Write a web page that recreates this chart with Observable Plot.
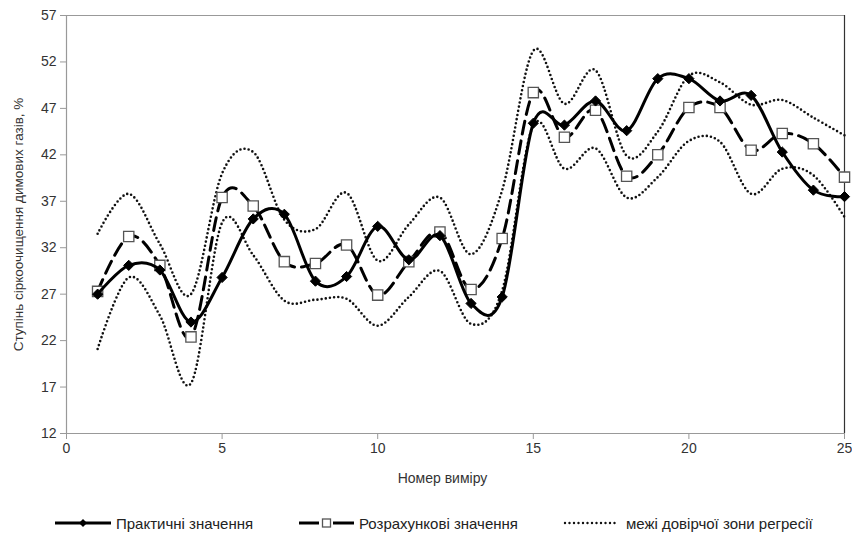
<!DOCTYPE html>
<html>
<head>
<meta charset="utf-8">
<script src="https://cdn.jsdelivr.net/npm/d3@7"></script>
<script src="https://cdn.jsdelivr.net/npm/@observablehq/plot@0.6"></script>
<style>
  body { margin: 0; background: #fff; font-family: "Liberation Sans", Arial, sans-serif; }
  #wrap { position: relative; width: 852px; height: 535px; }
  #legend { position: absolute; left: 0; top: 500px; width: 852px; height: 35px; }
  .item { position: absolute; top: 13px; height: 20px; display: flex; align-items: center; font-size: 15px; color: #222; white-space: nowrap; }
  .item svg { margin-right: 5px; }
</style>
</head>
<body>
<div id="wrap">
  <div id="chart"></div>
  <div id="legend"></div>
</div>
<script>
const measurements = [1,2,3,4,5,6,7,8,9,10,11,12,13,14,15,16,17,18,19,20,21,22,23,24,25];
const practical = [27.0,30.1,29.6,24.0,28.8,35.1,35.6,28.4,28.9,34.3,30.7,33.3,26.0,26.7,45.4,45.2,47.8,44.6,50.2,50.2,47.8,48.4,42.3,38.2,37.5];
const calculated = [27.3,33.2,30.1,22.4,37.4,36.5,30.5,30.3,32.3,26.9,30.5,33.7,27.5,33.0,48.7,43.9,46.8,39.7,42.0,47.1,47.1,42.5,44.3,43.2,39.6];
const upperBound = [33.5,37.8,32.4,27.0,40.0,42.3,35.0,34.0,37.9,30.6,34.5,37.4,31.3,38.2,53.2,47.5,51.1,41.9,44.5,50.5,49.8,47.4,47.9,46.0,44.1];
const lowerBound = [21.1,28.8,24.7,17.4,34.7,31.2,26.3,26.4,26.5,23.6,26.7,29.5,23.8,27.4,45.2,40.5,42.7,37.4,39.6,43.5,43.4,37.8,40.5,39.8,35.3];
const xTicks = [0,5,10,15,20,25];
const yTicks = [12,17,22,27,32,37,42,47,52,57];
const seriesNames = ["Практичні значення", "Розрахункові значення", "межі довірчої зони регресії"];
const xTitle = "Номер виміру";
const yTitle = "Ступінь сіркоочищення димових газів, %";

const rows = (vals) => measurements.map((m, i) => ({x: m, y: vals[i]}));
const pr = rows(practical), ca = rows(calculated), up = rows(upperBound), lo = rows(lowerBound);

const font = "Liberation Sans, Arial, sans-serif";
const chart = Plot.plot({
  width: 852,
  height: 500,
  marginLeft: 66,
  marginRight: 8,
  marginTop: 15,
  marginBottom: 67,
  style: {fontFamily: font, fontSize: "14px", background: "#fff"},
  x: {domain: [0, 25]},
  y: {domain: [12, 57]},
  marks: [
    Plot.ruleY([57], {stroke: "#999", strokeWidth: 1.2}),
    Plot.ruleX([25], {stroke: "#333", strokeWidth: 1.2}),
    Plot.ruleX([0], {stroke: "#999", strokeWidth: 1.2}),
    Plot.ruleY([12], {stroke: "#999", strokeWidth: 1.2}),
    Plot.axisY(yTicks, {tickSize: 6, tickPadding: 4, stroke: "#999", fill: "#333", fontSize: 14, label: null}),
    Plot.axisX(xTicks, {tickSize: 6, tickPadding: 4, stroke: "#999", fill: "#333", fontSize: 14, label: null}),
    Plot.text([yTitle], {frameAnchor: "left", textAnchor: "middle", dx: -48, rotate: -90, fontSize: 13.5, fill: "#333"}),
    Plot.text([xTitle], {frameAnchor: "bottom", dy: 49, dx: -13, fontSize: 14, fill: "#333"}),
    Plot.line(up, {x: "x", y: "y", curve: "cardinal", stroke: "#111", strokeWidth: 2.6, strokeDasharray: "0,4.2", strokeLinecap: "round"}),
    Plot.line(lo, {x: "x", y: "y", curve: "cardinal", stroke: "#111", strokeWidth: 2.6, strokeDasharray: "0,4.2", strokeLinecap: "round"}),
    Plot.line(ca, {x: "x", y: "y", curve: "cardinal", stroke: "#000", strokeWidth: 3, strokeDasharray: "13,7"}),
    Plot.dot(ca, {x: "x", y: "y", symbol: "square", r: 5.8, fill: "#fff", stroke: "#555", strokeWidth: 1.3}),
    Plot.line(pr, {x: "x", y: "y", curve: "cardinal", stroke: "#000", strokeWidth: 3}),
    Plot.dot(pr, {x: "x", y: "y", symbol: "diamond2", r: 4.6, fill: "#000", stroke: "#000", strokeWidth: 1})
  ]
});
document.getElementById("chart").appendChild(chart);

// legend
const legend = document.getElementById("legend");
const items = [
  {left: 55, w: 56, kind: "solid", label: seriesNames[0]},
  {left: 299, w: 55, kind: "dash", label: seriesNames[1]},
  {left: 563, w: 58, kind: "dot", label: seriesNames[2]}
];
items.forEach(it => {
  const div = document.createElement("div");
  div.className = "item";
  div.style.left = it.left + "px";
  let sw = "";
  const c = it.w / 2;
  if (it.kind === "solid") {
    sw = `<line x1="0" y1="10" x2="${it.w}" y2="10" stroke="#000" stroke-width="3"/>` +
         `<path d="M${c},6 L${c+4},10 L${c},14 L${c-4},10 Z" fill="#000"/>`;
  } else if (it.kind === "dash") {
    sw = `<line x1="0" y1="10" x2="20" y2="10" stroke="#000" stroke-width="3"/>` +
         `<line x1="34" y1="10" x2="${it.w}" y2="10" stroke="#000" stroke-width="3"/>` +
         `<rect x="${c-4}" y="6" width="8" height="8" fill="#fff" stroke="#555" stroke-width="1.3"/>`;
  } else {
    sw = `<line x1="2" y1="10" x2="${it.w-2}" y2="10" stroke="#111" stroke-width="2.4" stroke-dasharray="0,4.5" stroke-linecap="round"/>`;
  }
  div.innerHTML = `<svg width="${it.w}" height="20">${sw}</svg><span>${it.label}</span>`;
  legend.appendChild(div);
});
</script>
</body>
</html>
